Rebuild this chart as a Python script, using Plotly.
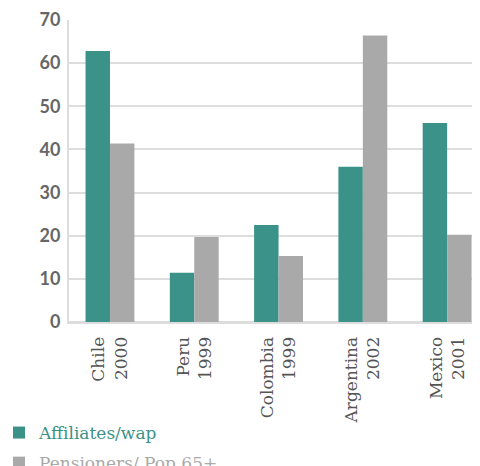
import plotly.graph_objects as go

categories = ["Chile<br>2000", "Peru<br>1999", "Colombia<br>1999", "Argentina<br>2002", "Mexico<br>2001"]
affiliates = [62.8, 11.4, 22.5, 36.0, 46.1]
pensioners = [41.4, 19.7, 15.3, 66.4, 20.2]
y_ticks = [0, 10, 20, 30, 40, 50, 60, 70]

TEAL = "#3A9288"
GRAY = "#A9A9A9"

fig = go.Figure()
fig.add_trace(go.Bar(
    x=categories, y=affiliates, marker_color=TEAL, marker_line_width=0,
    name="<span style='color:%s'>Affiliates/wap</span>" % TEAL, legendgroup="a",
))
fig.add_trace(go.Bar(
    x=categories, y=pensioners, marker_color=GRAY, marker_line_width=0,
    name="<span style='color:%s'>Pensioners/ Pop 65+</span>" % GRAY, legendgroup="b",
))

# page body has an 8px margin; figure is sized/offset to compensate
W, H = 472, 458
PLOT_L, PLOT_T, PLOT_B = 61, 12, 314
plot_w = W - PLOT_L
plot_h = PLOT_B - PLOT_T

fig.update_layout(
    width=W, height=H,
    margin=dict(l=PLOT_L, r=0, t=PLOT_T, b=H - PLOT_B, autoexpand=False),
    paper_bgcolor="white", plot_bgcolor="white",
    barmode="group", bargap=0.42, bargroupgap=0,
    showlegend=True,
    legend=dict(
        orientation="v",
        x=-70 / plot_w, xanchor="left",
        y=-93 / plot_h, yanchor="top",
        font=dict(family="DejaVu Serif", size=17),
        itemwidth=30, tracegroupgap=5, bgcolor="rgba(0,0,0,0)",
    ),
    font=dict(family="DejaVu Serif", color="#555"),
)
fig.update_xaxes(
    type="category", range=[-0.486, 4.39],
    tickangle=-90, tickfont=dict(family="DejaVu Serif", size=17, color="#555"),
    showline=True, linecolor="#DDDDDD", linewidth=2,
    showgrid=False, ticks="", automargin=False, ticklabelstandoff=6,
)
fig.update_yaxes(
    range=[0, 70], tickvals=y_ticks,
    tickfont=dict(family="Lato", size=18, color="#666", weight="bold"),
    showgrid=True, gridcolor="#DDDDDD", gridwidth=1.5,
    showline=True, linecolor="#DDDDDD", linewidth=2,
    zeroline=True, zerolinecolor="#DDDDDD", zerolinewidth=2,
    ticks="", ticklabelstandoff=3, automargin=False,
)

fig.write_html("out.html")
